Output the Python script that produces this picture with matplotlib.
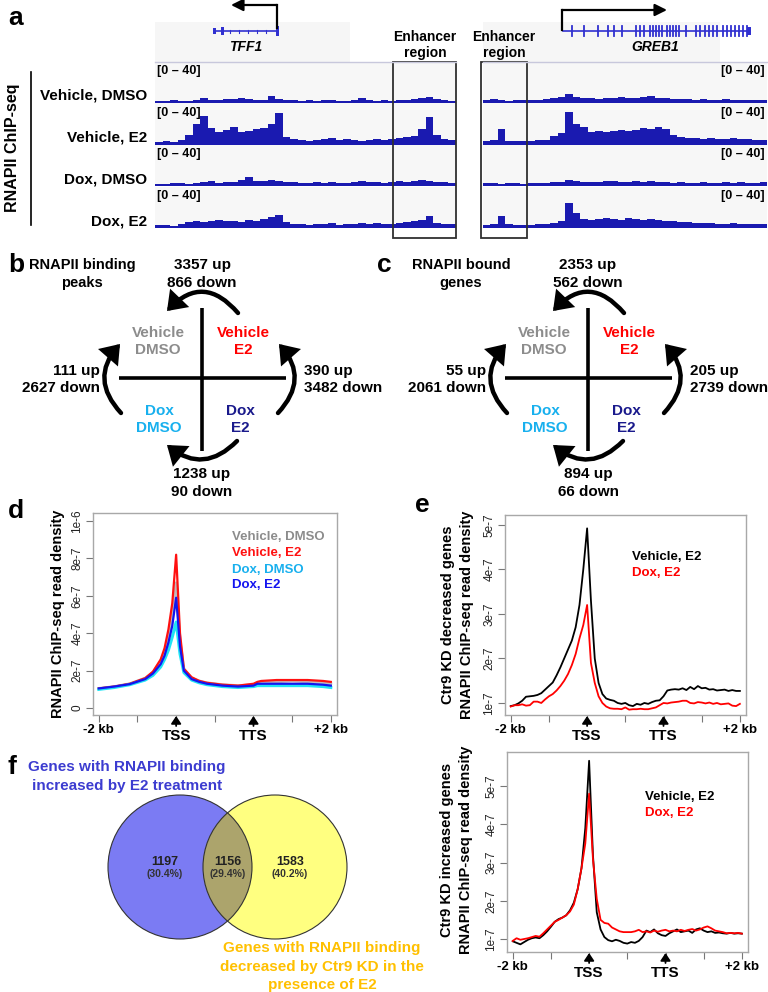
import numpy as np
import matplotlib
matplotlib.use("Agg")
import matplotlib.pyplot as plt
from matplotlib.patches import Rectangle, Circle, FancyArrowPatch
from matplotlib.transforms import blended_transform_factory, offset_copy

plt.rcParams['font.family'] = ['Liberation Sans', 'DejaVu Sans']

# ---------------- data ----------------
conditions = ["Vehicle, DMSO", "Vehicle, E2", "Dox, DMSO", "Dox, E2"]
track_range = "[0 – 40]"

# panel a: binned RNAPII ChIP-seq coverage (TFF1 locus, GREB1 locus)
tff1_veh_dmso = [2, 2, 3, 2, 2, 3, 5, 3, 3, 4, 4, 5, 4, 3, 3, 7, 4, 3, 3, 2,
                 3, 2, 3, 3, 2, 2, 3, 5, 3, 2, 3, 2, 3, 3, 4, 5, 6, 4, 3, 2]
tff1_veh_e2 = [2, 3, 2, 4, 9, 20, 28, 16, 12, 14, 17, 12, 13, 15, 16, 20, 31, 7, 5, 4,
               3, 4, 5, 6, 4, 5, 4, 3, 4, 5, 4, 5, 6, 7, 8, 15, 27, 9, 5, 4]
tff1_dox_dmso = [2, 2, 3, 3, 2, 3, 4, 5, 3, 4, 4, 6, 9, 5, 5, 6, 5, 4, 4, 3,
                 3, 4, 3, 4, 3, 3, 4, 5, 4, 4, 3, 4, 5, 4, 5, 6, 5, 4, 4, 3]
tff1_dox_e2 = [2, 2, 1, 3, 5, 6, 5, 6, 7, 6, 6, 5, 7, 6, 8, 10, 12, 5, 3, 3,
               2, 3, 3, 4, 2, 3, 3, 4, 3, 4, 3, 3, 4, 5, 6, 7, 11, 4, 3, 3]
greb1_veh_dmso = [3, 4, 3, 2, 3, 3, 3, 3, 4, 5, 6, 9, 6, 5, 5, 4, 5, 5, 6, 5,
                  5, 6, 7, 5, 5, 4, 4, 4, 3, 4, 3, 3, 4, 3, 3, 3, 3, 3]
greb1_veh_e2 = [3, 4, 15, 3, 3, 3, 3, 4, 4, 8, 11, 32, 20, 17, 12, 13, 12, 13, 14, 13,
                14, 16, 15, 17, 15, 9, 7, 6, 6, 5, 6, 5, 5, 6, 5, 5, 4, 4]
greb1_dox_dmso = [3, 3, 2, 3, 3, 2, 3, 3, 3, 4, 4, 6, 5, 4, 4, 4, 5, 5, 4, 4,
                  5, 4, 5, 4, 4, 3, 4, 3, 3, 4, 3, 3, 4, 3, 4, 3, 3, 4]
greb1_dox_e2 = [2, 3, 11, 3, 2, 2, 2, 3, 3, 4, 6, 24, 14, 8, 7, 8, 9, 8, 7, 9,
                8, 7, 8, 7, 6, 6, 5, 5, 4, 4, 4, 3, 3, 4, 3, 3, 3, 3]
tff1_tracks = [tff1_veh_dmso, tff1_veh_e2, tff1_dox_dmso, tff1_dox_e2]
greb1_tracks = [greb1_veh_dmso, greb1_veh_e2, greb1_dox_dmso, greb1_dox_e2]
tff1_exons = [214, 222, 277]
greb1_exons = [572, 584, 598, 608, 614, 622, 636, 640, 644, 650, 653, 656, 659, 662,
               667, 670, 673, 676, 679, 686, 696, 700, 705, 709, 713, 717, 723, 727,
               731, 735, 739, 743, 747]

# panels b, c: order = top, left, right, bottom
peaks_up = [3357, 111, 390, 1238]
peaks_down = [866, 2627, 3482, 90]
genes_up = [2353, 55, 205, 894]
genes_down = [562, 2061, 2739, 66]

# panel d: metagene profiles (units of 1e-7)
d_x = [0, 4, 8, 12, 14, 16, 17, 18, 19, 20, 21, 22, 24, 26, 28, 32, 36, 40, 41, 42, 46, 50, 54, 58, 60]
d_veh_dmso = [1.05, 1.15, 1.3, 1.6, 1.9, 2.5, 3.0, 3.8, 4.9, 6.7, 3.6, 2.1, 1.6, 1.45, 1.35, 1.25, 1.2,
              1.25, 1.3, 1.35, 1.4, 1.45, 1.4, 1.35, 1.3]
d_veh_e2 = [1.05, 1.15, 1.3, 1.6, 1.95, 2.6, 3.2, 4.2, 5.6, 8.2, 4.0, 2.1, 1.65, 1.45, 1.35, 1.25, 1.2,
            1.3, 1.4, 1.45, 1.5, 1.5, 1.5, 1.45, 1.4]
d_dox_dmso = [1.0, 1.1, 1.25, 1.5, 1.75, 2.2, 2.6, 3.1, 3.8, 4.6, 2.9, 1.9, 1.5, 1.35, 1.25, 1.15, 1.1,
              1.15, 1.2, 1.2, 1.2, 1.2, 1.2, 1.15, 1.1]
d_dox_e2 = [1.05, 1.15, 1.28, 1.55, 1.85, 2.35, 2.8, 3.5, 4.4, 5.9, 3.3, 2.0, 1.55, 1.4, 1.3, 1.2, 1.15,
            1.2, 1.3, 1.3, 1.3, 1.3, 1.3, 1.25, 1.2]

# panel e: profiles on 61 bins (units of 1e-7)
e_x = list(range(61))
e_dec_vehicle = [0.93, 0.95, 0.99, 1.05, 1.14, 1.15, 1.16, 1.18, 1.22, 1.30, 1.38, 1.46, 1.62, 1.80, 2.0,
                 2.2, 2.4, 2.7, 3.2, 4.0, 4.92, 3.3, 2.0, 1.45, 1.2, 1.1, 1.07, 1.05, 1.0, 0.98, 1.0,
                 0.95, 0.93, 0.98, 0.96, 1.0, 0.98, 1.02, 1.05, 1.06, 1.15, 1.28, 1.30, 1.31, 1.30,
                 1.33, 1.29, 1.36, 1.31, 1.38, 1.33, 1.34, 1.30, 1.31, 1.28, 1.29, 1.30, 1.27, 1.29,
                 1.27, 1.27]
e_dec_dox = [0.92, 0.95, 0.95, 0.97, 0.94, 0.95, 1.03, 1.03, 1.00, 1.08, 1.15, 1.20, 1.28, 1.38, 1.50,
             1.65, 1.85, 2.10, 2.45, 2.75, 3.20, 1.90, 1.45, 1.15, 1.0, 0.92, 0.88, 0.87, 0.87, 0.86,
             0.90, 0.85, 0.86, 0.86, 0.87, 0.86, 0.86, 0.88, 0.90, 0.95, 1.0, 0.99, 1.01, 1.02, 1.03,
             1.05, 1.05, 1.0, 0.99, 1.02, 1.01, 0.99, 1.01, 0.98, 1.0, 0.97, 0.98, 0.99, 0.94, 0.93,
             0.98]
e_inc_vehicle = [0.94, 0.90, 0.86, 0.92, 0.98, 1.02, 1.04, 1.02, 1.10, 1.20, 1.32, 1.45, 1.52, 1.56, 1.62,
                 1.75, 1.95, 2.3, 2.85, 3.9, 5.66, 3.2, 1.7, 1.25, 1.05, 0.97, 0.94, 0.98, 0.95, 0.90,
                 0.88, 0.92, 0.90, 0.95, 1.05, 1.22, 1.18, 1.25, 1.15, 1.10, 1.08, 1.15, 1.20, 1.25,
                 1.18, 1.20, 1.22, 1.16, 1.25, 1.28, 1.22, 1.18, 1.2, 1.16, 1.17, 1.15, 1.14, 1.16,
                 1.14, 1.15, 1.14]
e_inc_dox = [0.95, 1.02, 0.98, 1.0, 1.02, 1.05, 1.08, 1.06, 1.15, 1.25, 1.35, 1.45, 1.50, 1.56, 1.62,
             1.72, 1.90, 2.3, 2.85, 3.5, 4.8, 3.1, 2.05, 1.5, 1.42, 1.40, 1.30, 1.25, 1.2, 1.18, 1.18,
             1.18, 1.20, 1.24, 1.18, 1.20, 1.17, 1.22, 1.19, 1.22, 1.24, 1.20, 1.22, 1.2, 1.24, 1.21,
             1.24, 1.26, 1.22, 1.25, 1.30, 1.33, 1.28, 1.22, 1.2, 1.18, 1.15, 1.16, 1.15, 1.16, 1.14]

# panel f: Venn
venn_counts = [1197, 1156, 1583]
venn_pct = [30.4, 29.4, 40.2]

# ---------------- figure ----------------
W, H = 768, 992
fig = plt.figure(figsize=(W / 100, H / 100), dpi=100)


def px_axes(l, t, r, b):
    return fig.add_axes([l / W, 1 - b / H, (r - l) / W, (b - t) / H])


BOLD = dict(fontweight='bold')

# ----- panel a tracks -----
track_blue = '#1a1ab0'
tops = [62, 103.5, 145, 186.5]
for row in range(4):
    for vals, (l, r), side in ((tff1_tracks[row], (155, 456), 'L'), (greb1_tracks[row], (483, 767), 'R')):
        ax = px_axes(l, tops[row], r, tops[row] + 41)
        ax.set_facecolor('#f7f7f7')
        ax.bar(np.arange(len(vals)), vals, width=1.0, color=track_blue, linewidth=0)
        ax.axhline(0, color=track_blue, lw=2.2)
        ax.set_xlim(-0.5, len(vals) - 0.5)
        ax.set_ylim(0, 40)
        ax.set_xticks([]); ax.set_yticks([])
        for sp in ax.spines.values():
            sp.set_visible(False)
        if side == 'L':
            ax.text(0.008, 0.78, track_range, transform=ax.transAxes, ha='left', va='center',
                    fontsize=9, **BOLD)
        else:
            ax.text(0.992, 0.78, track_range, transform=ax.transAxes, ha='right', va='center',
                    fontsize=9, **BOLD)


def setup_profile(ax, ylim, yticks, ylabels):
    ax.set_xlim(-1.5, 61.6)
    ax.set_ylim(*ylim)
    for sp in ax.spines.values():
        sp.set_color('#a8a8a8'); sp.set_linewidth(1.0)
    ax.set_xticks(range(0, 61, 10))
    ax.tick_params(axis='x', length=5, width=0.8, color='#777777', labelbottom=False)
    ax.set_yticks(yticks)
    ax.set_yticklabels(ylabels, fontsize=8.5, color='#222222')
    for lab in ax.get_yticklabels():
        lab.set_rotation(90); lab.set_va('center'); lab.set_ha('right')
    ax.tick_params(axis='y', length=5, width=0.8, color='#777777', pad=2)
    base = blended_transform_factory(ax.transData, ax.transAxes)
    for x, s, dy, fs in ((0, '-2 kb', 15, 9.5), (60, '+2 kb', 15, 9.5), (20, 'TSS', 21, 11), (40, 'TTS', 21, 11)):
        ax.text(x, 0, s, transform=offset_copy(base, fig=fig, x=0, y=-dy, units='dots'),
                ha='center', va='center', fontsize=fs, clip_on=False, **BOLD)
    for x in (20, 40):
        ax.annotate('', xy=(x, 0), xycoords=offset_copy(base, fig=fig, x=0, y=-1, units='dots'),
                    xytext=(x, 0), textcoords=offset_copy(base, fig=fig, x=0, y=-11, units='dots'),
                    arrowprops=dict(arrowstyle='-|>,head_length=0.45,head_width=0.3', color='k', lw=1.3,
                                    mutation_scale=10, shrinkA=0, shrinkB=0), annotation_clip=False)


# ----- panel d -----
axd = px_axes(93, 513, 337, 715)
axd.plot(d_x, d_veh_dmso, color='#bdbdbd', lw=2)
axd.plot(d_x, d_veh_e2, color='#ff1010', lw=1.6)
axd.plot(d_x, d_dox_dmso, color='#20e4f4', lw=2.2)
axd.plot(d_x, d_dox_e2, color='#1414f0', lw=1.6)
setup_profile(axd, (-0.37, 10.43), [0, 2, 4, 6, 8, 10], ['0', '2e-7', '4e-7', '6e-7', '8e-7', '1e-6'])

# ----- panel e -----
axe1 = px_axes(505, 515, 746, 715)
axe1.plot(e_x, e_dec_vehicle, color='black', lw=1.3)
axe1.plot(e_x, e_dec_dox, color='#ff0000', lw=1.3)
setup_profile(axe1, (0.73, 5.22), [1, 2, 3, 4, 5], ['1e-7', '2e-7', '3e-7', '4e-7', '5e-7'])

axe2 = px_axes(507, 752, 748, 952)
axe2.plot(e_x, e_inc_vehicle, color='black', lw=1.3)
axe2.plot(e_x, e_inc_dox, color='#ff0000', lw=1.3)
setup_profile(axe2, (0.66, 5.89), [1, 2, 3, 4, 5], ['1e-7', '2e-7', '3e-7', '4e-7', '5e-7'])

# ----- overlay (pixel coordinates) -----
ov = fig.add_axes([0, 0, 1, 1])
ov.set_xlim(0, W); ov.set_ylim(H, 0); ov.axis('off')


def T(x, y, s, size=11, color='k', ha='center', va='center', **kw):
    ov.text(x, y, s, fontsize=size, color=color, ha=ha, va=va, fontweight=kw.pop('fontweight', 'bold'), **kw)


# panel letters
for lx, ly, s in ((8, 18, 'a'), (8, 265, 'b'), (377, 265, 'c'), (8, 511, 'd'), (415, 505, 'e'), (8, 767, 'f')):
    T(lx, ly, s, size=19, ha='left')

# ----- panel a header -----
ov.add_patch(Rectangle((155, 22), 195, 40, fc='#f6f6f6', ec='none'))
ov.add_patch(Rectangle((483, 22), 237, 40, fc='#f6f6f6', ec='none'))
ov.plot([155, 456], [62, 62], color='#c8c8dc', lw=1)
ov.plot([483, 767], [62, 62], color='#c8c8dc', lw=1)
gene_blue = '#3030d0'
ov.plot([214, 278], [31, 31], color=gene_blue, lw=1.2)
for gx in range(230, 275, 9):
    ov.plot([gx, gx], [29.5, 32.5], color=gene_blue, lw=0.8)
for gx, hh in zip(tff1_exons, (3, 4, 5)):
    ov.add_patch(Rectangle((gx - 1.5, 31 - hh), 3, 2 * hh, fc=gene_blue, ec='none'))
ov.plot([563, 750], [31, 31], color=gene_blue, lw=1.2)
for gx in greb1_exons:
    ov.plot([gx, gx], [26, 36], color=gene_blue, lw=1.3)
ov.add_patch(Rectangle((747, 27), 4, 8, fc=gene_blue, ec='none'))
ov.annotate('', xy=(231, 5), xytext=(277, 5),
            arrowprops=dict(arrowstyle='-|>,head_length=0.6,head_width=0.3', color='k', lw=1.6,
                            mutation_scale=12, shrinkA=0, shrinkB=0))
ov.plot([277, 277], [5, 28], color='k', lw=1.6)
ov.annotate('', xy=(667, 10), xytext=(562, 10),
            arrowprops=dict(arrowstyle='-|>,head_length=0.6,head_width=0.3', color='k', lw=1.6,
                            mutation_scale=12, shrinkA=0, shrinkB=0))
ov.plot([562, 562], [10, 30], color='k', lw=1.6)
T(246, 47, 'TFF1', size=10, style='italic')
T(655, 47, 'GREB1', size=10, style='italic')
T(425, 37, 'Enhancer', size=10)
T(425, 53, 'region', size=10)
T(504, 37, 'Enhancer', size=10)
T(504, 53, 'region', size=10)
ov.add_patch(Rectangle((393, 62), 63, 176, fill=False, ec='#303030', lw=1.3))
ov.add_patch(Rectangle((481, 62), 46, 176, fill=False, ec='#303030', lw=1.3))
for name, y in zip(conditions, (96, 137, 179, 221)):
    T(147, y, name, size=11, ha='right')
ov.plot([31, 31], [72, 225], color='k', lw=1.2)
T(13, 148, 'RNAPII ChIP-seq', size=11.5, rotation=90)

# ----- panels b, c -----
quad_labels = [('Vehicle', 'DMSO', '#8c8c8c', -44, 333),
               ('Vehicle', 'E2', '#ff0000', 41, 333),
               ('Dox', 'DMSO', '#18b0ee', -43, 411),
               ('Dox', 'E2', '#1a1a8c', 38, 411)]


def carrow(p_tail, p_head, rad):
    ov.add_patch(FancyArrowPatch(p_tail, p_head, connectionstyle=f"arc3,rad={rad}",
                                 arrowstyle="-|>,head_length=0.55,head_width=0.4", mutation_scale=16,
                                 lw=3.2, color='k', shrinkA=0, shrinkB=0, joinstyle='miter'))


def quad_panel(cx, title1, title2, title_x, up, down):
    T(title_x, 265, title1, size=10.5)
    T(title_x, 283, title2, size=10.5)
    T(cx, 265, f"{up[0]} up"); T(cx, 283, f"{down[0]} down")
    T(cx - 102, 371, f"{up[1]} up", ha='right'); T(cx - 102, 388, f"{down[1]} down", ha='right')
    T(cx + 102, 371, f"{up[2]} up", ha='left'); T(cx + 102, 388, f"{down[2]} down", ha='left')
    T(cx, 474, f"{up[3]} up"); T(cx, 492, f"{down[3]} down")
    ov.plot([cx, cx], [308, 451], color='k', lw=2.6, solid_capstyle='butt')
    ov.plot([cx - 83, cx + 84], [378, 378], color='k', lw=2.6, solid_capstyle='butt')
    for w1, w2, col, dx, y in quad_labels:
        T(cx + dx, y, w1, color=col)
        T(cx + dx, y + 17, w2, color=col)
    carrow((cx + 36, 313), (cx - 35, 311), 0.55)
    carrow((cx - 81, 413), (cx - 82, 344), -0.45)
    carrow((cx + 76, 413), (cx + 77, 344), 0.45)
    carrow((cx + 35, 441), (cx - 35, 445), -0.45)


quad_panel(202, 'RNAPII binding', 'peaks', 82, peaks_up, peaks_down)
quad_panel(588, 'RNAPII bound', 'genes', 461, genes_up, genes_down)

# ----- panel d/e labels & legends -----
T(58, 614, 'RNAPII ChIP-seq read density', size=10.5, rotation=90)
for name, col, y in zip(conditions, ('#8c8c8c', '#ff1010', '#18b0ee', '#1414f0'), (537, 553, 570, 585)):
    T(232, y, name, size=9.5, color=col, ha='left')
T(448, 615, 'Ctr9 KD decreased genes', size=10.5, rotation=90)
T(467, 615, 'RNAPII ChIP-seq read density', size=10.5, rotation=90)
T(447, 850, 'Ctr9 KD increased genes', size=10.5, rotation=90)
T(466, 850, 'RNAPII ChIP-seq read density', size=10.5, rotation=90)
T(632, 557, conditions[1], size=9.5, ha='left')
T(632, 573, conditions[3], size=9.5, color='#ff0000', ha='left')
T(645, 797, conditions[1], size=9.5, ha='left')
T(645, 813, conditions[3], size=9.5, color='#ff0000', ha='left')

# ----- panel f: Venn -----
c1 = Circle((180, 867), 72, fc='#7b7bf3', ec='none')
c2 = Circle((275, 867), 72, fc='#ffff80', ec='none')
ov.add_patch(c1); ov.add_patch(c2)
ovl = Circle((275, 867), 72, fc='#aca46c', ec='none')
ov.add_patch(ovl); ovl.set_clip_path(c1)
ov.add_patch(Circle((180, 867), 72, fill=False, ec='#333333', lw=0.8))
ov.add_patch(Circle((275, 867), 72, fill=False, ec='#333333', lw=0.8))
for x, n, p in zip((165, 228, 290), venn_counts, venn_pct):
    T(x, 862, f"{n}", size=9, color='#222222')
    T(x, 874, f"({p}%)", size=7.5, color='#333333')
T(127, 767, 'Genes with RNAPII binding', size=11, color='#3c3cd0')
T(127, 786, 'increased by E2 treatment', size=11, color='#3c3cd0')
T(322, 948, 'Genes with RNAPII binding', size=11, color='#ffc000')
T(322, 967, 'decreased by Ctr9 KD in the', size=11, color='#ffc000')
T(322, 985, 'presence of E2', size=11, color='#ffc000')

fig.savefig('out.png', dpi=100)
